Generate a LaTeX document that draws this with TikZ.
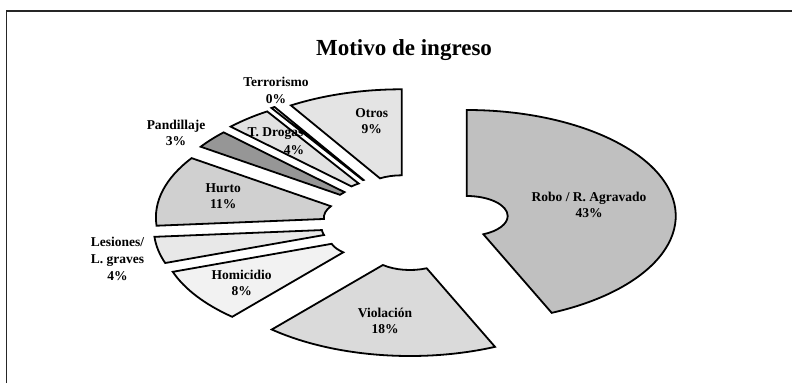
\documentclass[tikz,border=0pt]{standalone}
\usepackage{fontspec}
\setmainfont{Liberation Serif}
\definecolor{cRobo}{RGB}{192,192,192}
\definecolor{cViol}{RGB}{218,218,218}
\definecolor{cHomi}{RGB}{242,242,242}
\definecolor{cLesi}{RGB}{232,232,232}
\definecolor{cHurt}{RGB}{208,208,208}
\definecolor{cPand}{RGB}{150,150,150}
\definecolor{cDrog}{RGB}{226,226,226}
\definecolor{cOtro}{RGB}{228,228,228}
\newcommand{\pieslice}[5]{%
  \draw[slicestyle, fill=#5]
    ([shift={(#1,#2)}]#3:209pt and 106pt)
    arc[start angle=#3, end angle=#4, x radius=209pt, y radius=106pt]
    -- ([shift={(#1,#2)}]#4:41pt and 20pt)
    arc[start angle=#4, end angle=#3, x radius=41pt, y radius=20pt]
    -- cycle;}
\begin{document}
\begin{tikzpicture}[x=1pt,y=-1pt,
  slicestyle/.style={draw=black, line width=1.8pt, line join=miter},
  lbl/.style={align=center, inner sep=0pt, font=\bfseries\fontsize{13.5}{16.6}\selectfont},
  frame/.style={draw=black!85, line width=1.6pt}]
\useasboundingbox (0,0) rectangle (792,383);
\fill[white] (0,0) rectangle (792,383);
\draw[frame] (6.5,383) -- (6.5,10.7) -- (792,10.7);
\node[font=\bfseries\fontsize{23}{26}\selectfont, anchor=base] (title) at (404,55) {Motivo de ingreso};
% slices
\pieslice{466.7}{216}{-66}{90}{cRobo}
\pieslice{410}{250}{-131.4}{-66}{cViol}
\pieslice{370.4}{237.3}{-161}{-131.4}{cHomi}
\pieslice{362.8}{228.5}{-175.5}{-161}{cLesi}
\pieslice{364.9}{217.4}{146}{184.5}{cHurt}
\pieslice{374}{206}{136}{146}{cPand}
\pieslice{381}{200.3}{123}{136}{cDrog}
\pieslice{385.3}{196.9}{122}{123}{white}
\pieslice{401.7}{195.3}{90}{122}{cOtro}
% labels
\node[lbl] (lrobo) at (589,205) {Robo / R. Agravado\\43\%};
\node[lbl] (lviol) at (385,321) {Violación\\18\%};
\node[lbl] (lhomi) at (241.7,283) {Homicidio\\8\%};
\node[lbl] (llesi) at (117.5,259) {Lesiones/\\L. graves\\4\%};
\node[lbl] (lhurt) at (223.3,196) {Hurto\\11\%};
\node[lbl] (lpand) at (176,133) {Pandillaje\\3\%};
\node[lbl] (ldrog) at (275.5,134) {T. Drogas};
\node[lbl] (ldrogp) at (294,150.5) {4\%};
\node[lbl] (lterr) at (276,90.5) {Terrorismo\\0\%};
\node[lbl] (lotro) at (371.7,121) {Otros\\9\%};
\end{tikzpicture}
\end{document}
